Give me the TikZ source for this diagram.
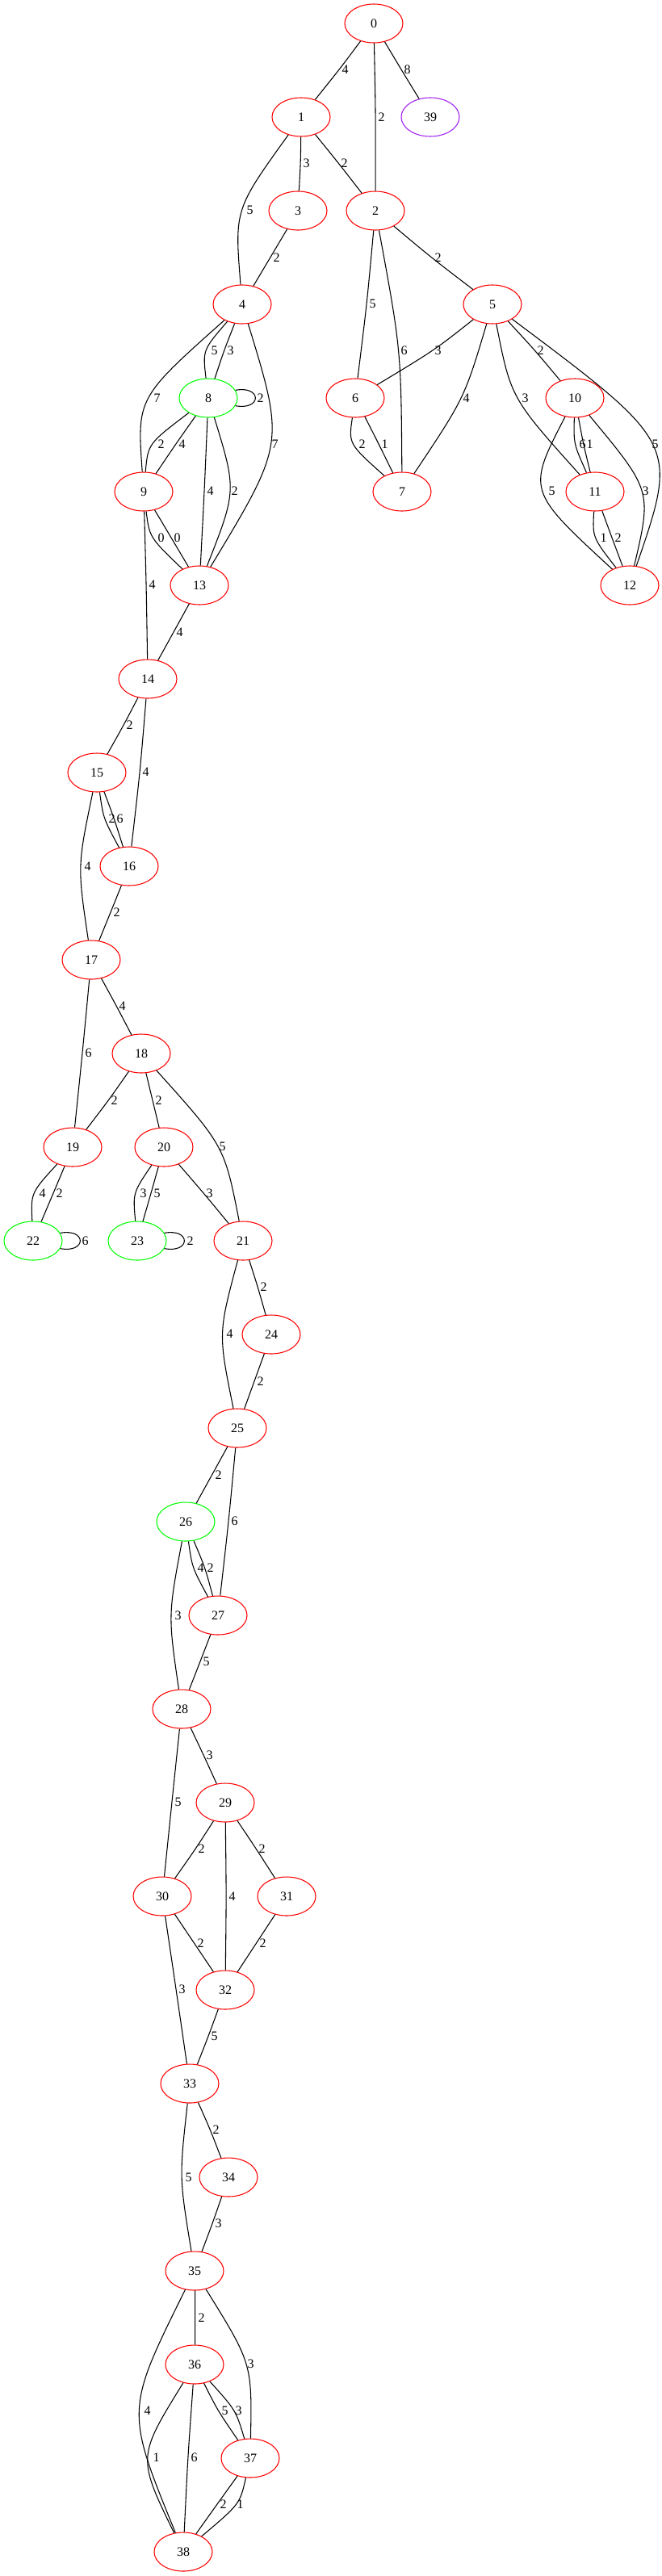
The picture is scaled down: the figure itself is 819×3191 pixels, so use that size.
\documentclass[tikz,border=0pt]{standalone}
\usepackage{fontspec}
\setmainfont{Liberation Serif}
\usetikzlibrary{shapes.geometric, calc}
\definecolor{gvRed}{RGB}{255, 0, 0}
\definecolor{gvGreen}{RGB}{0, 255, 0}
\definecolor{gvPurple}{RGB}{160, 32, 240}
\tikzset{
    base/.style={
        font=\fontsize{12}{14}\selectfont
    },
    vertex/.style={
        base,
        ellipse,
        draw=gvRed,
        line width=0.8pt,
        minimum width=54pt,
        minimum height=36pt,
        inner sep=0pt
    },
    looped/.style={
        vertex,
        draw=gvGreen
    },
    extra/.style={
        vertex,
        draw=gvPurple
    },
    link/.style={
        draw=black,
        line width=0.8pt
    },
    weight/.style={
        base,
        anchor=west,
        inner sep=2.25pt
    }
}
% weighted edge: from, to, middle of the curve (x,y), weight
\newcommand{\wlink}[5]{%
  \draw[link] (#1) .. controls ($4/3*(#3,#4)-1/6*(#1)-1/6*(#2)$) .. (#2)
    node[weight] at (#3,#4) {#5};
}

\begin{document}
\begin{tikzpicture}[x=0.75pt, y=-0.75pt]
  \path[use as bounding box, fill=white] (0,0) rectangle (819,3191);

  % upper part
  \node[vertex] (n0) at (463,29) {0};
  \node[vertex] (n1) at (373,145) {1};
  \node[extra] (n39) at (533,145) {39};
  \node[vertex] (n3) at (369,261) {3};
  \node[vertex] (n2) at (465,261) {2};
  \node[vertex] (n4) at (300,377) {4};
  \node[vertex] (n5) at (610,377) {5};
  \node[looped] (n8) at (258,493) {8};
  \node[vertex] (n6) at (440,493) {6};
  \node[vertex] (n10) at (712,493) {10};
  \node[vertex] (n9) at (178,609) {9};
  \node[vertex] (n7) at (498,609) {7};
  \node[vertex] (n11) at (737,609) {11};
  \node[vertex] (n13) at (247,725) {13};
  \node[vertex] (n12) at (780,725) {12};

  % middle part
  \node[vertex] (n14) at (183,841) {14};
  \node[vertex] (n15) at (120,957) {15};
  \node[vertex] (n16) at (160,1073) {16};
  \node[vertex] (n17) at (113,1189) {17};
  \node[vertex] (n18) at (175,1305) {18};
  \node[vertex] (n19) at (90,1421) {19};
  \node[vertex] (n20) at (203,1421) {20};
  \node[looped] (n22) at (41,1537) {22};
  \node[looped] (n23) at (170,1537) {23};
  \node[vertex] (n21) at (301,1537) {21};
  \node[vertex] (n24) at (336,1653) {24};
  \node[vertex] (n25) at (294,1769) {25};
  \node[looped] (n26) at (230,1885) {26};
  \node[vertex] (n27) at (270,2001) {27};

  % lower part
  \node[vertex] (n28) at (225,2117) {28};
  \node[vertex] (n29) at (279,2233) {29};
  \node[vertex] (n30) at (201,2349) {30};
  \node[vertex] (n31) at (355,2349) {31};
  \node[vertex] (n32) at (279,2465) {32};
  \node[vertex] (n33) at (235,2581) {33};
  \node[vertex] (n34) at (283,2697) {34};
  \node[vertex] (n35) at (241,2813) {35};
  \node[vertex] (n36) at (241,2929) {36};
  \node[vertex] (n37) at (310,3045) {37};
  \node[vertex] (n38) at (227,3161) {38};

  % edges of the upper part
  \wlink{n0}{n1}{420}{86}{4}
  \wlink{n0}{n2}{465}{145}{2}
  \wlink{n0}{n39}{497}{86}{8}
  \wlink{n1}{n3}{372}{202}{3}
  \wlink{n1}{n2}{419}{202}{2}
  \wlink{n1}{n4}{302}{260}{5}
  \wlink{n3}{n4}{335}{319}{2}
  \wlink{n2}{n5}{535}{319}{2}
  \wlink{n2}{n6}{454}{376}{5}
  \wlink{n2}{n7}{493}{434}{6}
  \wlink{n4}{n8}{258}{434}{5}
  \wlink{n4}{n8}{278}{434}{3}
  \wlink{n4}{n9}{187}{493}{7}
  \wlink{n4}{n13}{333}{550}{7}
  \wlink{n5}{n6}{535}{434}{3}
  \wlink{n5}{n10}{662}{434}{2}
  \wlink{n5}{n7}{570}{493}{4}
  \wlink{n5}{n11}{643}{493}{3}
  \wlink{n5}{n12}{804}{550}{5}
  \wlink{n8}{n9}{192}{550}{2}
  \wlink{n8}{n9}{218}{550}{4}
  \wlink{n8}{n13}{253}{608}{4}
  \wlink{n8}{n13}{283}{608}{2}
  \wlink{n6}{n7}{441}{550}{2}
  \wlink{n6}{n7}{469}{550}{1}
  \wlink{n10}{n11}{714}{550}{6}
  \wlink{n10}{n11}{723}{550}{1}
  \wlink{n10}{n12}{676}{608}{5}
  \wlink{n10}{n12}{792}{608}{3}
  \wlink{n9}{n13}{192}{666}{0}
  \wlink{n9}{n13}{212}{666}{0}
  \wlink{n11}{n12}{740}{666}{1}
  \wlink{n11}{n12}{758}{666}{2}
  \draw[link] (n8.16) .. controls +(33,-6) and +(33,6) .. (n8.-16)
    node[weight] at (315,493) {2};

  % edges of the middle part
  \wlink{n9}{n14}{181}{724}{4}
  \wlink{n13}{n14}{215}{783}{4}
  \wlink{n14}{n15}{153}{898}{2}
  \wlink{n14}{n16}{173}{956}{4}
  \wlink{n15}{n16}{131}{1014}{2}
  \wlink{n15}{n16}{141}{1014}{6}
  \wlink{n15}{n17}{101}{1073}{4}
  \wlink{n16}{n17}{137}{1130}{2}
  \wlink{n17}{n18}{144}{1246}{4}
  \wlink{n17}{n19}{102}{1304}{6}
  \wlink{n18}{n19}{134}{1363}{2}
  \wlink{n18}{n20}{189}{1363}{2}
  \wlink{n18}{n21}{268}{1420}{5}
  \wlink{n19}{n22}{45}{1478}{4}
  \wlink{n19}{n22}{66}{1478}{2}
  \wlink{n20}{n23}{170}{1478}{3}
  \wlink{n20}{n23}{187}{1478}{5}
  \wlink{n20}{n21}{252}{1478}{3}
  \draw[link] (n22.16) .. controls +(33,-6) and +(33,6) .. (n22.-16)
    node[weight] at (98,1537) {6};
  \draw[link] (n23.16) .. controls +(33,-6) and +(33,6) .. (n23.-16)
    node[weight] at (228,1537) {2};
  \wlink{n21}{n24}{319}{1594}{2}
  \wlink{n21}{n25}{277}{1652}{4}
  \wlink{n24}{n25}{315}{1711}{2}
  \wlink{n25}{n26}{263}{1827}{2}
  \wlink{n25}{n27}{283}{1884}{6}
  \wlink{n26}{n27}{241}{1942}{4}
  \wlink{n26}{n27}{253}{1942}{2}

  % edges of the lower part
  \wlink{n26}{n28}{213}{2001}{3}
  \wlink{n27}{n28}{248}{2058}{5}
  \wlink{n28}{n29}{252}{2174}{3}
  \wlink{n28}{n30}{213}{2232}{5}
  \wlink{n29}{n30}{242}{2290}{2}
  \wlink{n29}{n31}{317}{2290}{2}
  \wlink{n29}{n32}{280}{2349}{4}
  \wlink{n30}{n32}{241}{2407}{2}
  \wlink{n31}{n32}{318}{2407}{2}
  \wlink{n30}{n33}{218}{2464}{3}
  \wlink{n32}{n33}{258}{2522}{5}
  \wlink{n33}{n34}{260}{2638}{2}
  \wlink{n33}{n35}{226}{2697}{5}
  \wlink{n34}{n35}{263}{2754}{3}
  \wlink{n35}{n36}{242}{2871}{2}
  \wlink{n35}{n37}{303}{2928}{3}
  \wlink{n35}{n38}{175}{2986}{4}
  \wlink{n36}{n37}{271}{2986}{5}
  \wlink{n36}{n37}{288}{2986}{3}
  \wlink{n36}{n38}{186}{3044}{1}
  \wlink{n36}{n38}{233}{3044}{6}
  \wlink{n37}{n38}{269}{3102}{2}
  \wlink{n37}{n38}{290}{3102}{1}

\end{tikzpicture}
\end{document}
